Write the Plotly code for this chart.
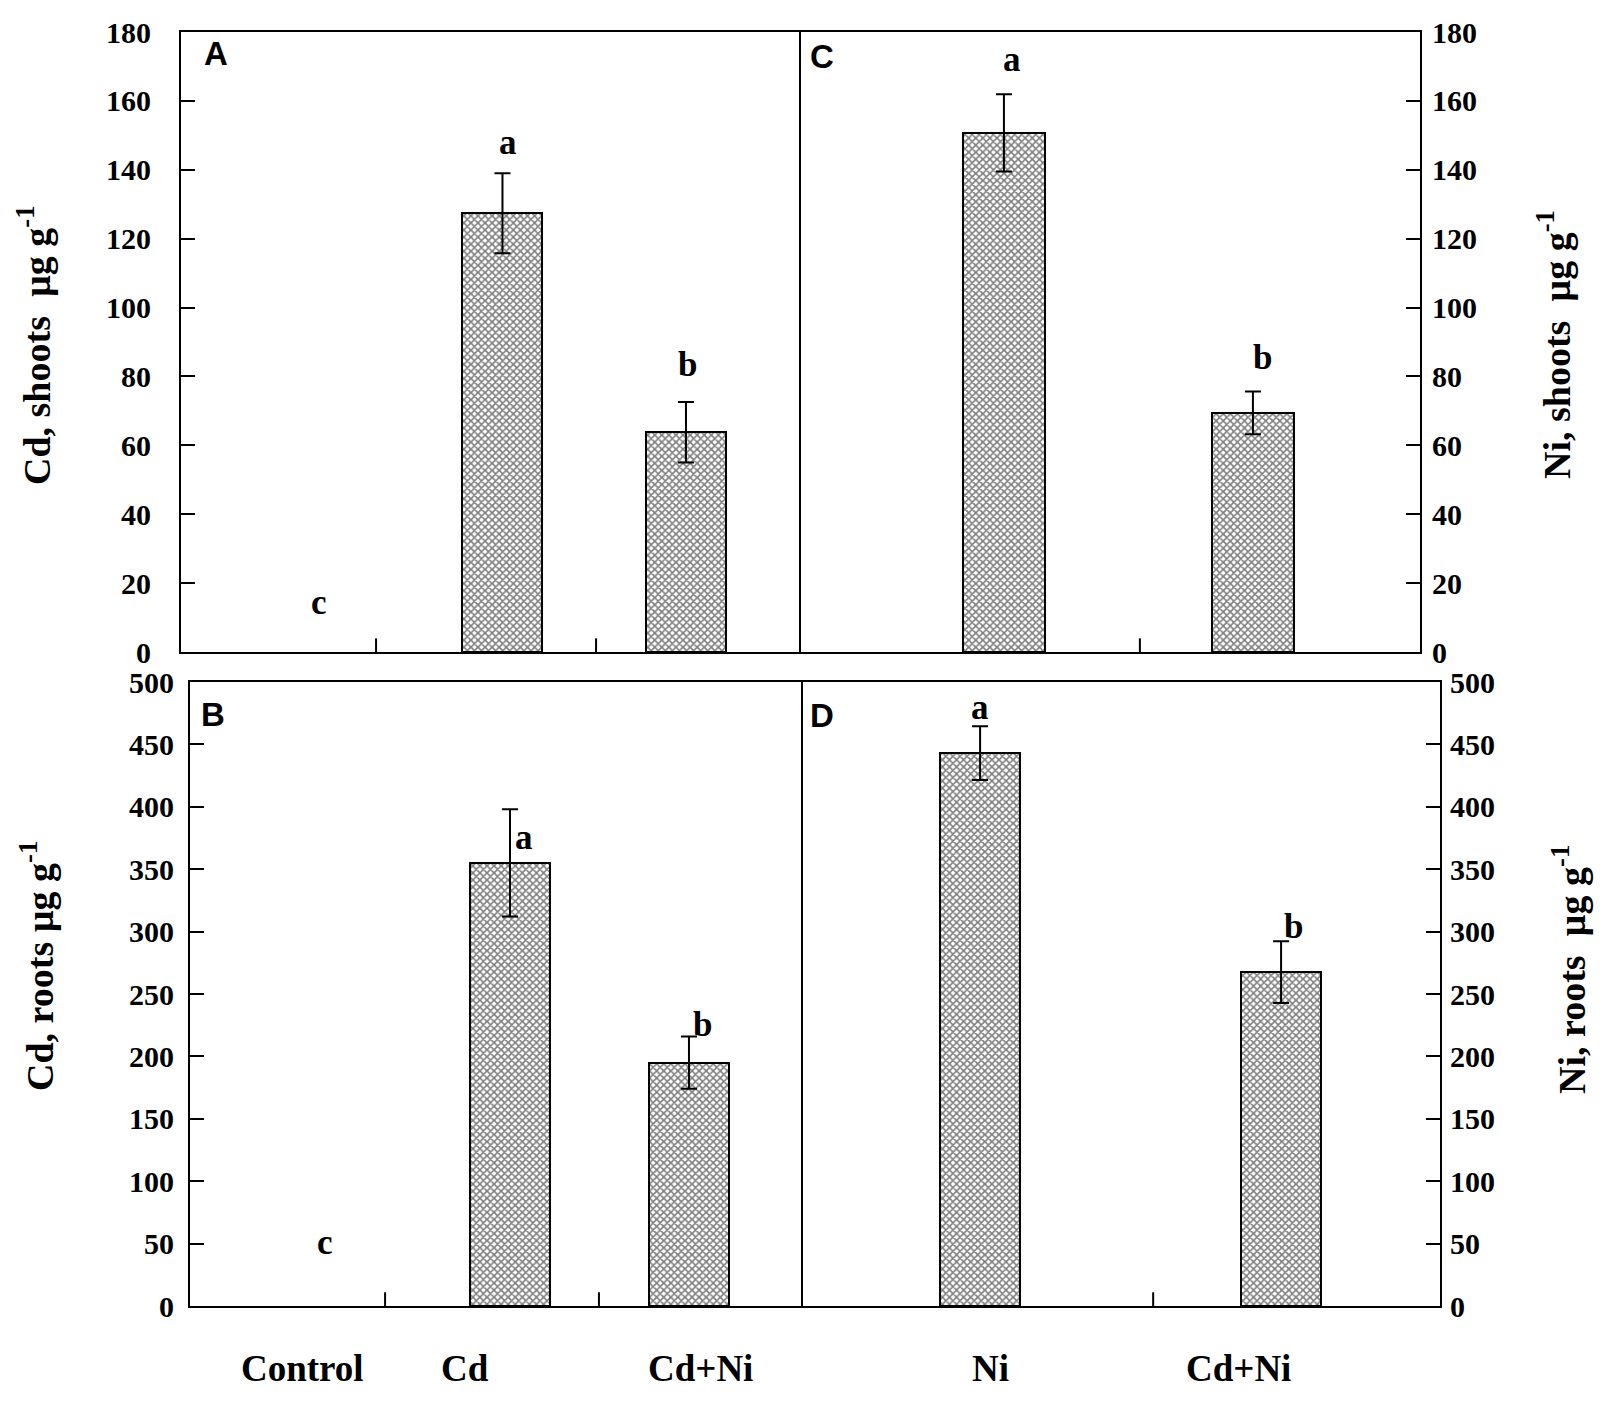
import plotly.graph_objects as go

# treatments
cats_cd = ["Control", "Cd", "Cd+Ni"]
cats_ni = ["Ni", "Cd+Ni"]

# metal content, ug/g
cd_shoots = [None, 127.4, 63.8]
cd_shoots_err = [0, 11.6, 8.8]
ni_shoots = [150.7, 69.4]
ni_shoots_err = [11.2, 6.2]
cd_roots = [None, 355.0, 195.0]
cd_roots_err = [0, 43.0, 21.0]
ni_roots = [443.0, 267.5]
ni_roots_err = [21.5, 24.7]

# significance letters and the height they sit at
cd_shoots_let = ["c", "a", "b"]
cd_shoots_let_y = [14.3, 147.8, 83.4]
ni_shoots_let = ["a", "b"]
ni_shoots_let_y = [171.9, 85.5]
cd_roots_let = ["c", "a", "b"]
cd_roots_let_y = [50.8, 375.6, 225.5]
ni_roots_let = ["a", "b"]
ni_roots_let_y = [479.4, 303.9]

W, H = 1610, 1403
OFF = 8  # page body margin
SERIF = "Liberation Serif"
SANS = "Liberation Sans"
NB = "\u00a0"


def px(x):
    return (x - OFF) / W


def py(y):
    return 1 - (y - OFF) / H


fig = go.Figure()

panels = [
    # x axis, y axis, cats, vals, err, bar width, letters, letter y, letter shifts
    ("x", "y", cats_cd, cd_shoots, cd_shoots_err, 0.436, cd_shoots_let, cd_shoots_let_y, [0, 6, 2]),
    ("x2", "y2", cats_ni, ni_shoots, ni_shoots_err, 0.33, ni_shoots_let, ni_shoots_let_y, [8, 10]),
    ("x3", "y3", cats_cd, cd_roots, cd_roots_err, 0.447, cd_roots_let, cd_roots_let_y, [-6, 14, 14]),
    ("x4", "y4", cats_ni, ni_roots, ni_roots_err, 0.266, ni_roots_let, ni_roots_let_y, [0, 12]),
]

annotations = []
for xa, ya, cats, vals, err, w, lets, lety, dx in panels:
    fig.add_trace(go.Bar(
        x=cats, y=vals, width=w, xaxis=xa, yaxis=ya, showlegend=False,
        marker=dict(color="white", line=dict(color="black", width=2),
                    pattern=dict(shape="x", fgcolor="black", bgcolor="white",
                                 size=5, solidity=0.55)),
        error_y=dict(type="data", array=err, color="black", thickness=2, width=8),
    ))
    for c, t, yy, s in zip(cats, lets, lety, dx):
        annotations.append(dict(x=c, y=yy, xref=xa, yref=ya, text="<b>" + t + "</b>",
                                showarrow=False, xshift=s, xanchor="center", yanchor="middle",
                                font=dict(family=SERIF, size=35, color="black")))

# treatment labels below the lower panels
for c, ax, s in zip(cats_cd + cats_ni, ["x3"] * 3 + ["x4"] * 2, [-29, -45, 12, 10, -43]):
    annotations.append(dict(x=c, y=py(1368), xref=ax, yref="paper", text="<b>" + c + "</b>",
                            showarrow=False, xshift=s, xanchor="center", yanchor="middle",
                            font=dict(family=SERIF, size=37, color="black")))

# panel letters
for t, x, y in [("A", 216, 53), ("C", 822, 56), ("B", 213, 714), ("D", 822, 716)]:
    annotations.append(dict(x=px(x), y=py(y), xref="paper", yref="paper", text="<b>" + t + "</b>",
                            showarrow=False, xanchor="center", yanchor="middle",
                            font=dict(family=SANS, size=33, color="black")))

# axis titles
for t, x, y in [("Cd, shoots" + NB + NB + "µg g<sup>-1</sup>", 34, 345),
                ("Ni, shoots" + NB + NB + "µg g<sup>-1</sup>", 1554, 345),
                ("Cd, roots µg g<sup>-1</sup>", 37, 966),
                ("Ni, roots" + NB + NB + "µg g<sup>-1</sup>", 1569, 970)]:
    annotations.append(dict(x=px(x), y=py(y), xref="paper", yref="paper", text="<b>" + t + "</b>",
                            showarrow=False, textangle=-90, xanchor="center", yanchor="middle",
                            font=dict(family=SERIF, size=38, color="black")))

# small inward ticks on the category axes
shapes = []
for xa, ya, pos in [("x", "y", [0.311, 1.51]), ("x2", "y2", [0.546]),
                    ("x3", "y3", [0.302, 1.497]), ("x4", "y4", [0.575])]:
    for p in pos:
        shapes.append(dict(type="line", xref=xa, yref=ya + " domain", x0=p, x1=p, y0=0, y1=0.022,
                           line=dict(color="black", width=2)))

tickfont = dict(family=SERIF, size=30, color="black", weight="bold")


def xax(dom, anchor, cats, rng):
    return dict(domain=dom, anchor=anchor, type="category", categoryorder="array",
                categoryarray=cats, range=rng, showticklabels=False, ticks="",
                showline=True, mirror=True, linecolor="black", linewidth=2,
                showgrid=False, zeroline=False, automargin=False)


def yax(dom, anchor, side, rng, dtick, standoff, mirror):
    return dict(domain=dom, anchor=anchor, side=side, range=rng, dtick=dtick,
                ticks="inside", ticklen=14, tickwidth=2, tickcolor="black",
                tickfont=tickfont, ticklabelstandoff=standoff,
                showline=True, mirror=mirror, linecolor="black", linewidth=2,
                showgrid=False, zeroline=False, automargin=False)


top = [py(652), py(32)]
bot = [py(1306), py(682)]

fig.update_layout(
    width=W, height=H,
    margin=dict(l=0, r=0, t=0, b=0, pad=0, autoexpand=False),
    paper_bgcolor="white", plot_bgcolor="white",
    font=dict(family=SERIF, color="black"),
    bargap=0,
    xaxis=xax([px(181), px(799)], "y", cats_cd, [-0.752, 2.616]),
    yaxis=yax(top, "x", "left", [0, 180], 20, 22, True),
    xaxis2=xax([px(799), px(1420)], "y2", cats_ni, [-0.823, 1.671]),
    yaxis2=yax(top, "x2", "right", [0, 180], 20, 4, False),
    xaxis3=xax([px(190), px(801)], "y3", cats_cd, [-0.788, 2.626]),
    yaxis3=yax(bot, "x3", "left", [0, 500], 50, 8, True),
    xaxis4=xax([px(801), px(1440)], "y4", cats_ni, [-0.595, 1.528]),
    yaxis4=yax(bot, "x4", "right", [0, 500], 50, 2, False),
    annotations=annotations,
    shapes=shapes,
)

fig.write_html("out.html")
